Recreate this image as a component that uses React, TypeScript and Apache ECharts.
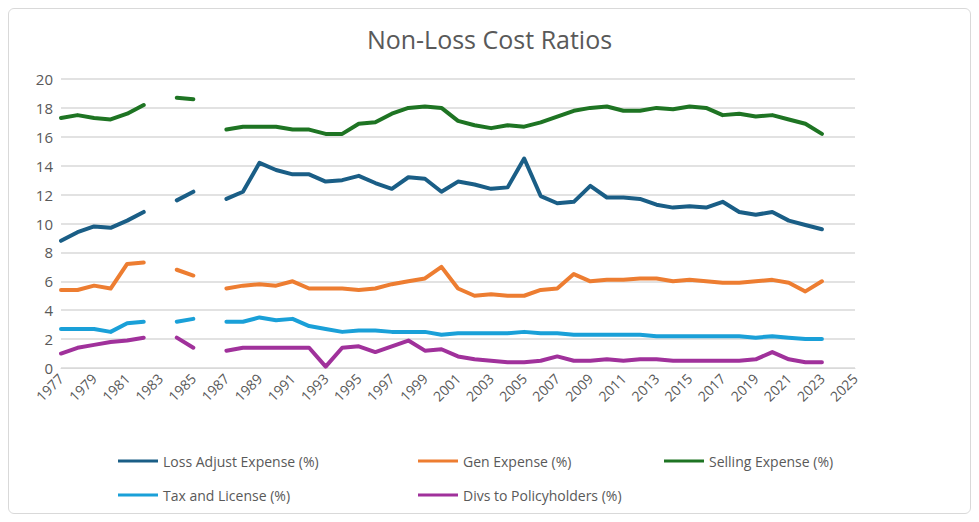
import React, { useEffect, useRef } from "react";
import * as echarts from "echarts";

const years: string[] = [];
for (let y = 1977; y <= 2025; y++) years.push(String(y));

const lae = [8.8,9.4,9.8,9.7,10.2,10.8,null,11.6,12.2,null,11.7,12.2,14.2,13.7,13.4,13.4,12.9,13.0,13.3,12.8,12.4,13.2,13.1,12.2,12.9,12.7,12.4,12.5,14.5,11.9,11.4,11.5,12.6,11.8,11.8,11.7,11.3,11.1,11.2,11.1,11.5,10.8,10.6,10.8,10.2,9.9,9.6];
const gen = [5.4,5.4,5.7,5.5,7.2,7.3,null,6.8,6.4,null,5.5,5.7,5.8,5.7,6.0,5.5,5.5,5.5,5.4,5.5,5.8,6.0,6.2,7.0,5.5,5.0,5.1,5.0,5.0,5.4,5.5,6.5,6.0,6.1,6.1,6.2,6.2,6.0,6.1,6.0,5.9,5.9,6.0,6.1,5.9,5.3,6.0];
const selling = [17.3,17.5,17.3,17.2,17.6,18.2,null,18.7,18.6,null,16.5,16.7,16.7,16.7,16.5,16.5,16.2,16.2,16.9,17.0,17.6,18.0,18.1,18.0,17.1,16.8,16.6,16.8,16.7,17.0,17.4,17.8,18.0,18.1,17.8,17.8,18.0,17.9,18.1,18.0,17.5,17.6,17.4,17.5,17.2,16.9,16.2];
const tax = [2.7,2.7,2.7,2.5,3.1,3.2,null,3.2,3.4,null,3.2,3.2,3.5,3.3,3.4,2.9,2.7,2.5,2.6,2.6,2.5,2.5,2.5,2.3,2.4,2.4,2.4,2.4,2.5,2.4,2.4,2.3,2.3,2.3,2.3,2.3,2.2,2.2,2.2,2.2,2.2,2.2,2.1,2.2,2.1,2.0,2.0];
const divs = [1.0,1.4,1.6,1.8,1.9,2.1,null,2.1,1.4,null,1.2,1.4,1.4,1.4,1.4,1.4,0.1,1.4,1.5,1.1,1.5,1.9,1.2,1.3,0.8,0.6,0.5,0.4,0.4,0.5,0.8,0.5,0.5,0.6,0.5,0.6,0.6,0.5,0.5,0.5,0.5,0.5,0.6,1.1,0.6,0.4,0.4];

const names = ["Loss Adjust Expense (%)", "Gen Expense (%)", "Selling Expense (%)", "Tax and License (%)", "Divs to Policyholders (%)"];
const colors = ["#1a5e86", "#ed7d31", "#1e7423", "#1aa0d8", "#a0319b"];
const dataSets = [lae, gen, selling, tax, divs];
const legendPos = [[104, 440], [404, 440], [650, 440], [104, 474], [404, 474]];

export default function App() {
  const ref = useRef<HTMLDivElement>(null);
  useEffect(() => {
    const chart = echarts.init(ref.current!, null, { renderer: "svg" });
    chart.setOption({
      animation: false,
      title: { text: "Non-Loss Cost Ratios", left: "center", top: 12, textStyle: { color: "#595959", fontSize: 25, fontWeight: "normal", fontFamily: "Open Sans" } },
      legend: legendPos.map((p, i) => ({
        data: [names[i]], left: p[0], top: p[1], itemWidth: 40, itemHeight: 3, icon: "rect",
        textStyle: { color: "#595959", fontSize: 14, fontFamily: "Open Sans" },
      })),
      grid: { left: 52, right: 115, top: 70, bottom: 145 },
      xAxis: {
        type: "category", data: years, boundaryGap: false,
        axisLine: { lineStyle: { color: "#d9d9d9" } }, axisTick: { show: false },
        axisLabel: { interval: 1, rotate: 45, color: "#595959", fontSize: 14, fontFamily: "Open Sans", margin: 8 },
      },
      yAxis: {
        type: "value", min: 0, max: 20, interval: 2,
        axisLabel: { color: "#595959", fontSize: 15, fontFamily: "Open Sans" },
        splitLine: { lineStyle: { color: "#d9d9d9", width: 1.5 } },
      },
      series: dataSets.map((d, i) => ({
        name: names[i], type: "line", data: d, showSymbol: false, connectNulls: false,
        lineStyle: { width: 4, color: colors[i], cap: "round", join: "round" }, itemStyle: { color: colors[i] },
      })),
    });
    return () => chart.dispose();
  }, []);
  return <div ref={ref} style={{ width: 963, height: 506, border: "1px solid #d9d9d9", borderRadius: 6, boxSizing: "border-box" }} />;
}
